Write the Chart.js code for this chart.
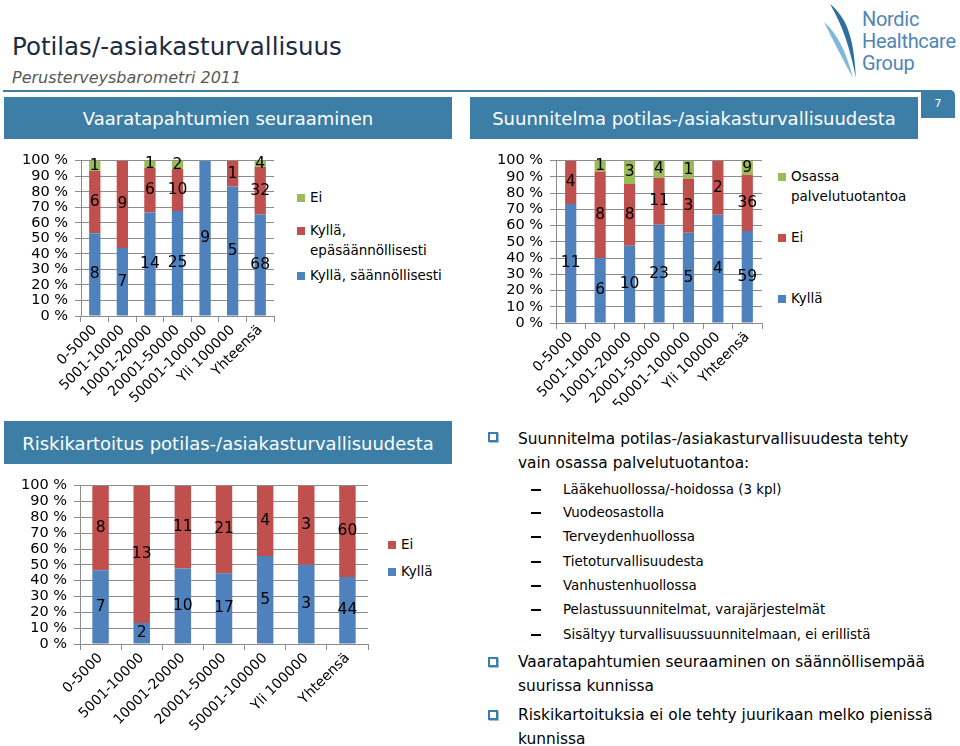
<!DOCTYPE html>
<html>
<head>
<meta charset="utf-8">
<script src="https://cdn.jsdelivr.net/npm/chart.js@4"></script>
<style>
  body { margin: 0; background: #fff; }
  #page { position: relative; width: 960px; height: 746px; overflow: hidden; font-family: "DejaVu Sans", sans-serif; color: #000; }
  .abs { position: absolute; white-space: nowrap; }
  .head { position: absolute; background: #3c7ea5; color: #fff; font-size: 18px; text-align: center; }
  canvas { position: absolute; }
  .sq { display: inline-block; width: 8px; height: 8px; margin-right: 5px; }
  .box { position: absolute; width: 10px; height: 10px; border: 2px solid #3c7ea5; box-sizing: border-box; box-shadow: 1px 1px 0 #9fbfd6; }
  .main { font-size: 15.4px; line-height: 20px; }
  .sub { font-size: 13.4px; line-height: 18px; }
  .dash { position: absolute; width: 10px; height: 2px; background: #000; }
  .leg { font-size: 13.5px; line-height: 20px; }
</style>
</head>
<body>
<div id="page">
  <div class="abs" style="left:12px;top:32px;font-size:24.5px;color:#1c2b3f;">Potilas/-asiakasturvallisuus</div>
  <div class="abs" style="left:12px;top:68px;font-size:16px;font-style:italic;color:#595959;">Perusterveysbarometri 2011</div>
  <div class="abs" style="left:3px;top:90px;width:922px;height:2px;background:#3c7ea5;"></div>
  <div class="abs" style="left:921px;top:90px;width:34px;height:28px;background:#3c7ea5;border-top-right-radius:5px;color:#fff;font-size:11px;line-height:28px;text-align:center;">7</div>

  <svg class="abs" style="left:820px;top:0px;" width="50" height="80" viewBox="0 0 50 80">
    <path d="M10 4 C30 20 34 45 36 78 C30 50 24 28 10 4 Z" fill="#2f6f9f"/>
    <path d="M4 22 C18 34 26 52 33 78 C22 58 14 42 4 22 Z" fill="#7fb8d8"/>
  </svg>
  <div class="abs" style="left:862px;top:8px;font-family:Roboto,sans-serif;font-size:20px;line-height:22px;color:#4f86b3;letter-spacing:-0.3px;">Nordic<br>Healthcare<br>Group</div>

  <div class="head" style="left:4px;top:97px;width:448px;height:42px;line-height:44px;">Vaaratapahtumien seuraaminen</div>
  <div class="head" style="left:470px;top:97px;width:448px;height:42px;line-height:44px;">Suunnitelma potilas-/asiakasturvallisuudesta</div>
  <div class="head" style="left:4px;top:421px;width:448px;height:43px;line-height:45px;">Riskikartoitus potilas-/asiakasturvallisuudesta</div>

  <canvas id="c1" width="282" height="260" style="left:0;top:145px;"></canvas>
  <canvas id="c2" width="290" height="260" style="left:480px;top:145px;"></canvas>
  <canvas id="c3" width="380" height="275" style="left:0;top:470px;"></canvas>

  <div id="leg1"></div>
  <div id="leg2"></div>
  <div id="leg3"></div>

  <div class="box" style="left:488px;top:432px;"></div>
  <div class="abs main" style="left:518px;top:429px;">Suunnitelma potilas-/asiakasturvallisuudesta tehty</div>
  <div class="abs main" style="left:518px;top:453px;">vain osassa palvelutuotantoa:</div>
  <div id="subs"></div>
  <div class="box" style="left:488px;top:657px;"></div>
  <div class="abs main" style="left:518px;top:652px;">Vaaratapahtumien seuraaminen on säännöllisempää</div>
  <div class="abs main" style="left:518px;top:676px;">suurissa kunnissa</div>
  <div class="box" style="left:488px;top:710px;"></div>
  <div class="abs main" style="left:518px;top:705px;">Riskikartoituksia ei ole tehty juurikaan melko pienissä</div>
  <div class="abs main" style="left:518px;top:729px;">kunnissa</div>
</div>

<script>
// kuntakoko-luokat
const sizeLabels = ['0-5000', '5001-10000', '10001-20000', '20001-50000', '50001-100000', 'Yli 100000', 'Yhteensä'];

// Vaaratapahtumien seuraaminen (lukumäärät)
const seurantaSaannollisesti = [8, 7, 14, 25, 9, 5, 68];
const seurantaEpasaannollisesti = [6, 9, 6, 10, 0, 1, 32];
const seurantaEi = [1, 0, 1, 2, 0, 0, 4];

// Suunnitelma potilas-/asiakasturvallisuudesta
const suunnitelmaKylla = [11, 6, 10, 23, 5, 4, 59];
const suunnitelmaEi = [4, 8, 8, 11, 3, 2, 36];
const suunnitelmaOsassa = [0, 1, 3, 4, 1, 0, 9];

// Riskikartoitus
const riskiKylla = [7, 2, 10, 17, 5, 3, 44];
const riskiEi = [8, 13, 11, 21, 4, 3, 60];

const subItems = ['Lääkehuollossa/-hoidossa (3 kpl)', 'Vuodeosastolla', 'Terveydenhuollossa',
  'Tietoturvallisuudesta', 'Vanhustenhuollossa', 'Pelastussuunnitelmat, varajärjestelmät',
  'Sisältyy turvallisuussuunnitelmaan, ei erillistä'];

const BLUE = '#4f81bd', RED = '#c0504d', GREEN = '#9bbb59';

// arvot segmenttien keskelle
const valueLabels = {
  id: 'valueLabels',
  afterDatasetsDraw(chart) {
    const ctx = chart.ctx;
    ctx.save();
    ctx.font = '15.5px "DejaVu Sans"';
    ctx.fillStyle = '#000';
    ctx.textAlign = 'center';
    ctx.textBaseline = 'middle';
    chart.data.datasets.forEach((ds, i) => {
      chart.getDatasetMeta(i).data.forEach((bar, j) => {
        const v = ds.counts[j];
        if (!v) return;
        ctx.fillText(String(v), bar.x, (bar.y + bar.base) / 2);
      });
    });
    ctx.restore();
  }
};

function makeChart(id, series, o) {
  const totals = sizeLabels.map((_, j) => series.reduce((s, d) => s + d.counts[j], 0));
  new Chart(id, {
    type: 'bar',
    data: {
      labels: sizeLabels,
      datasets: series.map(d => ({
        label: d.label,
        counts: d.counts,
        data: d.counts.map((v, j) => v / totals[j] * 100),
        backgroundColor: d.color,
        barPercentage: 1,
        categoryPercentage: o.cat
      }))
    },
    options: {
      responsive: false,
      animation: false,
      layout: { padding: { top: o.top, right: o.right, left: 0, bottom: 0 } },
      plugins: { legend: { display: false }, tooltip: { enabled: false } },
      scales: {
        x: {
          stacked: true,
          afterFit: s => { s.height = o.xh; },
          grid: { drawOnChartArea: false, tickLength: 6, color: '#8c8c8c', offset: true },
          border: { color: '#8c8c8c' },
          ticks: { autoSkip: false, minRotation: 45, maxRotation: 45, color: '#000', font: { family: 'DejaVu Sans', size: 14 }, padding: 0 }
        },
        y: {
          stacked: true,
          min: 0, max: 100,
          afterFit: s => { s.width = o.yw; },
          grid: { color: '#8c8c8c', tickLength: 6 },
          border: { color: '#8c8c8c' },
          ticks: { autoSkip: false, stepSize: 10, padding: 7, color: '#000', font: { family: 'DejaVu Sans', size: 14.5 }, callback: v => v + ' %' }
        }
      }
    },
    plugins: [valueLabels]
  });
}

makeChart('c1', [
  { label: 'Kyllä, säännöllisesti', counts: seurantaSaannollisesti, color: BLUE },
  { label: 'Kyllä, epäsäännöllisesti', counts: seurantaEpasaannollisesti, color: RED },
  { label: 'Ei', counts: seurantaEi, color: GREEN }
], { cat: 0.41, top: 13, right: 8, xh: 89, yw: 81 });

makeChart('c2', [
  { label: 'Kyllä', counts: suunnitelmaKylla, color: BLUE },
  { label: 'Ei', counts: suunnitelmaEi, color: RED },
  { label: 'Osassa palvelutuotantoa', counts: suunnitelmaOsassa, color: GREEN }
], { cat: 0.38, top: 13, right: 8, xh: 82, yw: 76 });

makeChart('c3', [
  { label: 'Kyllä', counts: riskiKylla, color: BLUE },
  { label: 'Ei', counts: riskiEi, color: RED }
], { cat: 0.40, top: 11, right: 12, xh: 101, yw: 80 });

// selitteet
function legend(el, x, items) {
  const box = document.getElementById(el);
  items.forEach(it => {
    const d = document.createElement('div');
    d.className = 'abs leg';
    d.style.left = x + 'px';
    d.style.top = (it.y - 10) + 'px';
    d.innerHTML = '<span class="sq" style="background:' + it.color + '"></span>' + it.lines[0] +
      (it.lines[1] ? '<br><span style="padding-left:13px">' + it.lines[1] + '</span>' : '');
    box.appendChild(d);
  });
}
legend('leg1', 297, [
  { y: 197, color: GREEN, lines: ['Ei'] },
  { y: 230, color: RED, lines: ['Kyllä,', 'epäsäännöllisesti'] },
  { y: 275, color: BLUE, lines: ['Kyllä, säännöllisesti'] }
]);
legend('leg2', 778, [
  { y: 176, color: GREEN, lines: ['Osassa', 'palvelutuotantoa'] },
  { y: 237, color: RED, lines: ['Ei'] },
  { y: 298, color: BLUE, lines: ['Kyllä'] }
]);
legend('leg3', 388, [
  { y: 544, color: RED, lines: ['Ei'] },
  { y: 571, color: BLUE, lines: ['Kyllä'] }
]);

const subBox = document.getElementById('subs');
subItems.forEach((t, i) => {
  const y = [490, 513, 537, 562, 586, 610, 635][i];
  const dash = document.createElement('div');
  dash.className = 'dash';
  dash.style.left = '531px';
  dash.style.top = (y - 1) + 'px';
  subBox.appendChild(dash);
  const d = document.createElement('div');
  d.className = 'abs sub';
  d.style.left = '563px';
  d.style.top = (y - 9) + 'px';
  d.textContent = t;
  subBox.appendChild(d);
});
</script>
</body>
</html>
